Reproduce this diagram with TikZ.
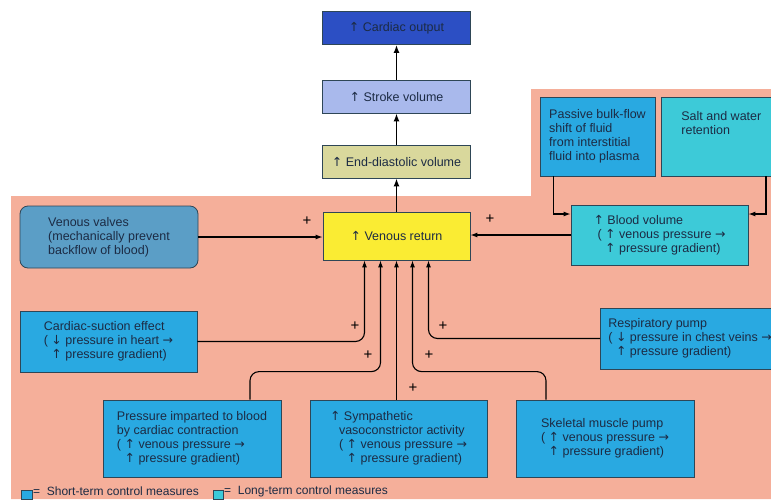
\documentclass[tikz,border=0pt]{standalone}
\usepackage{fontspec}
\setmainfont{Liberation Sans}
\newfontfamily\arrowfont{DejaVu Sans}
\usepackage{tikz}
\usetikzlibrary{arrows.meta}

\definecolor{salmon}{HTML}{F5AF9A}
\definecolor{outputblue}{HTML}{2C4FC4}
\definecolor{strokeblue}{HTML}{A9B9EC}
\definecolor{edvkhaki}{HTML}{D9D89C}
\definecolor{returnyellow}{HTML}{FAEC33}
\definecolor{valveblue}{HTML}{5B9EC6}
\definecolor{shortblue}{HTML}{29A9E1}
\definecolor{longcyan}{HTML}{3DCAD8}
\definecolor{inkblue}{HTML}{1C2B44}
\definecolor{boxline}{HTML}{2E4656}

\newcommand{\upa}{{\arrowfont↑}}
\newcommand{\dna}{{\arrowfont↓}}
\newcommand{\toa}{{\arrowfont→}}

\begin{document}
\begin{tikzpicture}[x=1pt, y=-1pt,
    box/.style={draw=boxline, line width=0.8pt, text=inkblue, align=left, inner sep=0pt,
                font=\fontsize{12.5}{14}\selectfont},
    short/.style={box, fill=shortblue},
    long/.style={box, fill=longcyan},
    chain/.style={line width=1.8pt, -{Latex[length=8pt,width=6pt]}},
    feed/.style={line width=1.1pt, rounded corners=9pt, -{Latex[length=7pt,width=5pt]}},
    bulk/.style={line width=1.1pt, -{Latex[length=7pt,width=5pt]}},
    plus/.style={inner sep=0pt, font=\fontsize{15}{15}\selectfont}]
  \useasboundingbox (0,0) rectangle (771,499);
  \clip (0,0) rectangle (771,499);
  % Background
  \fill[white] (0,0) rectangle (771,499);
  \fill[salmon] (11,196) -- (531,196) -- (531,89) -- (771,89) -- (771,499) -- (11,499) -- cycle;

  % Nodes
  \foreach \n/\y/\c/\t in {co/28/outputblue/Cardiac output, svol/96.5/strokeblue/Stroke volume,
                           ed/161.5/edvkhaki/End-diastolic volume} {
    \node[box, fill=\c, minimum width=148pt, minimum height=33pt] (\n) at (396.5,\y) {\upa{} \t};
  }
  \node[box, fill=returnyellow, minimum width=147pt, minimum height=48pt] (vr) at (396.5,236)
    {\upa{} Venous return};
  \node[box, fill=valveblue, rounded corners=8pt, minimum width=178pt, minimum height=62pt] (vv)
    at (109,237) {Venous valves\\(mechanically prevent\\backflow of blood)};
  \node[short, minimum width=177pt, minimum height=61pt] (cs) at (108.5,341.5)
    {Cardiac-suction effect\\( \dna{} pressure in heart \toa\\\hphantom{( }\upa{} pressure gradient)};
  \node[short, minimum width=178pt, minimum height=77pt] (pi) at (192,438.5)
    {Pressure imparted to blood\\by cardiac contraction\\( \upa{} venous pressure \toa\\\hphantom{( }\upa{} pressure gradient)};
  \node[short, minimum width=177pt, minimum height=77pt] (sa) at (398.5,438.5)
    {\upa{} Sympathetic\\\hspace*{9pt}vasoconstrictor activity\\\hspace*{9pt}( \upa{} venous pressure \toa\\\hspace*{9pt}\hphantom{( }\upa{} pressure gradient)};
  \node[short, minimum width=178pt, minimum height=77pt] (sk) at (605,438.5)
    {Skeletal muscle pump\\( \upa{} venous pressure \toa\\\hphantom{( }\upa{} pressure gradient)};
  \node[short, anchor=west, inner xsep=8pt, minimum height=61pt] (rp) at (600,338.5)
    {Respiratory pump\\( \dna{} pressure in chest veins \toa\\\hphantom{( }\upa{} pressure gradient)};
  \node[short, minimum width=115pt, minimum height=79pt] (bf) at (597.5,136.5)
    {Passive bulk-flow\\shift of fluid\\from interstitial\\fluid into plasma};
  \node[long, anchor=west, inner xsep=20pt, minimum height=79pt] (sw) at (661,136.5)
    {Salt and water\\retention\\[14pt]};
  \node[long, minimum width=177pt, minimum height=60pt] (bv) at (659.5,235)
    {\upa{} Blood volume\\\hspace*{4pt}( \upa{} venous pressure \toa\\\hspace*{4pt}\hphantom{( }\upa{} pressure gradient)};

  % Edges
  \draw[chain] (vr) -- (ed);
  \draw[chain] (ed) -- (svol);
  \draw[chain] (svol) -- (co);
  \draw[bulk] (vv.east) -- (vr.west |- vv.east);
  \draw[bulk] (bv.west) -- (vr.east |- bv.west);
  \draw[bulk] ([xshift=-44pt]bf.south) |- ([yshift=21pt]bv.west);
  \draw[bulk] (sw.south -| 766,0) |- ([yshift=21pt]bv.east);
  \draw[feed] (cs.east) -| ([xshift=-32pt]vr.south);
  \draw[feed] ([xshift=58pt]pi.north) -- ++(0,-28) -| ([xshift=-16pt]vr.south);
  \draw[feed] (sa.north -| vr.south) -- (vr.south);
  \draw[feed] ([xshift=-59pt]sk.north) -- ++(0,-28) -| ([xshift=16pt]vr.south);
  \draw[feed] (rp.west) -| ([xshift=32pt]vr.south);

  % Label
  \foreach \i/\x/\y in {1/355/326, 2/368/355, 3/413/388, 4/429/355, 5/443/326, 6/307/221, 7/490/219} {
    \node[plus] (p\i) at (\x,\y) {+};
  }
  \node[box, fill=shortblue, minimum width=11pt, minimum height=9pt] (ls) at (26.5,494.5) {};
  \node[anchor=west, text=inkblue, inner sep=0pt, font=\fontsize{12}{13}\selectfont] (lst)
    at (33,491.5) {= \ Short-term control measures};
  \node[box, fill=longcyan, minimum width=10pt, minimum height=9pt] (ll) at (218,494.5) {};
  \node[anchor=west, text=inkblue, inner sep=0pt, font=\fontsize{12}{13}\selectfont] (llt)
    at (224,491.5) {= \ Long-term control measures};
\end{tikzpicture}
\end{document}
